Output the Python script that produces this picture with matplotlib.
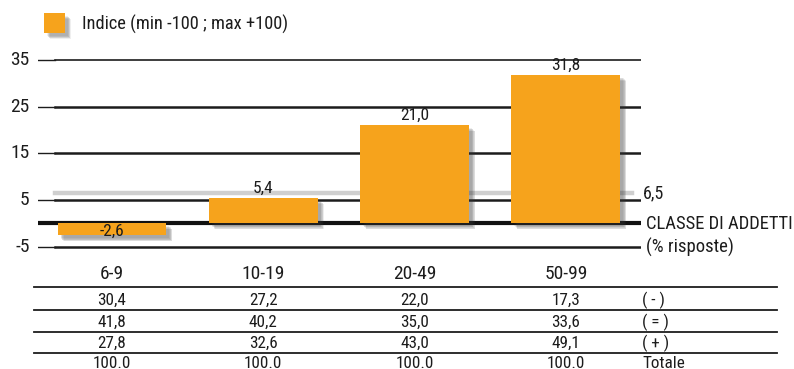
import matplotlib
matplotlib.use("Agg")
import matplotlib.pyplot as plt
import matplotlib.transforms as mtransforms
from matplotlib.patches import Rectangle
from matplotlib import font_manager as fm

# pick a narrow sans-serif face if one is installed
_names = sorted({f.name for f in fm.fontManager.ttflist})
_pref = ["Liberation Sans Narrow", "Roboto Condensed", "Open Sans Condensed",
         "Noto Sans Condensed", "DejaVu Sans Condensed", "Noto Sans SemiCondensed"]
FONT = next((n for n in _pref if n in _names), None)
STRETCH = "normal"
if FONT is None:
    _cands = [n for n in _names if "Narrow" in n or "Condensed" in n]
    if _cands:
        FONT = _cands[0]
if FONT is None:
    _cond = [f for f in fm.fontManager.ttflist
             if str(f.stretch) in ("condensed", "semi-condensed", "extra-condensed", "500", "300")]
    if _cond:
        FONT = _cond[0].name
        STRETCH = _cond[0].stretch
if FONT is None:
    FONT = "Liberation Sans"
plt.rcParams['font.family'] = [FONT, 'Liberation Sans', 'DejaVu Sans']
plt.rcParams['font.stretch'] = STRETCH

# ---- data ----
categories = ["6-9", "10-19", "20-49", "50-99"]
indice = [-2.6, 5.4, 21.0, 31.8]
indice_labels = ["-2,6", "5,4", "21,0", "31,8"]
media = 6.5
media_label = "6,5"
yticks = [35, 25, 15, 5, -5]

row_names = ["( - )", "( = )", "( + )", "Totale"]
risp_meno = ["30,4", "27,2", "22,0", "17,3"]
risp_uguale = ["41,8", "40,2", "35,0", "33,6"]
risp_piu = ["27,8", "32,6", "43,0", "49,1"]
totale = ["100.0", "100.0", "100.0", "100.0"]
table_rows = [risp_meno, risp_uguale, risp_piu, totale]

legend_text = "Indice (min -100 ; max +100)"
axis_title = "CLASSE DI ADDETTI"
axis_sub = "(% risposte)"

BAR = "#F6A31C"
INK = "#1c1c1c"
W, H = 794, 369
fig = plt.figure(figsize=(W / 100, H / 100), dpi=100)


def fx(px):
    return px / W


def fy(py):
    return 1 - py / H


# main plotting axes (pixel layout: x 38..641, y 45..260)
ax = fig.add_axes([fx(38), fy(260), fx(641) - fx(38), fy(45) - fy(260)])
ax.set_xlim(-0.489, 3.496)
ax.set_ylim(-7.86, 38.18)
ax.axis("off")

# horizontal grid lines
for v in yticks:
    ax.axhline(v, xmin=0.028, xmax=1, color=INK, lw=1.8 if v != 35 else 1.2, zorder=1)
    ax.axhline(v, xmin=0, xmax=0.028, color=INK, lw=1.0, zorder=1)
    ax.text(-0.545, v, str(v), ha="right", va="center", fontsize=14,
            color=INK, clip_on=False)
ax.axhline(0, color="#111111", lw=3.0, zorder=1)

# average line
ax.axhline(media, xmin=0.028, xmax=0.985, color="#cfcfcf", lw=3.2, zorder=0.9)
ax.text(3.51, media, media_label, ha="left", va="center", fontsize=13,
        color=INK, clip_on=False)
ax.text(3.53, -0.2, axis_title, ha="left", va="center", fontsize=13.4,
        color=INK, clip_on=False)
ax.text(3.53, -5.2, axis_sub, ha="left", va="center", fontsize=13.4,
        color=INK, clip_on=False)

# bars with soft drop shadow
bw = 0.72
xs = list(range(len(categories)))
for x, v in zip(xs, indice):
    y0, hgt = (0, v) if v >= 0 else (v, -v)
    for k in range(6):
        off = mtransforms.offset_copy(ax.transData, fig=fig, x=3 + k * 0.6,
                                      y=-(3 + k * 0.6), units="dots")
        ax.add_patch(Rectangle((x - bw / 2, y0), bw, hgt, transform=off,
                               facecolor="#3a3a3a", edgecolor="none",
                               alpha=0.09, zorder=1.5))
bars = ax.bar(xs, indice, width=bw, color=BAR, zorder=2)

for x, v, lab in zip(xs, indice, indice_labels):
    if v < 0:
        ax.text(x, v / 2 - 0.5, lab, ha="center", va="center", fontsize=12.5,
                color=INK, zorder=3)
    else:
        ax.text(x, v + 0.5, lab, ha="center", va="bottom", fontsize=12.5,
                color=INK, zorder=3)

# legend swatch
for k in range(6):
    fig.patches.append(Rectangle((fx(44 + 3 + k * 0.6), fy(33 + 3 + k * 0.6)),
                                 fx(21), 20 / H, transform=fig.transFigure,
                                 facecolor="#3a3a3a", edgecolor="none", alpha=0.08))
fig.patches.append(Rectangle((fx(44), fy(33)), fx(21), 20 / H,
                             transform=fig.transFigure, facecolor=BAR, edgecolor="none"))
fig.text(fx(82), fy(24), legend_text, ha="left", va="center", fontsize=13.2,
         color=INK)

# table under the chart
tx = mtransforms.blended_transform_factory(ax.transData, fig.transFigure)
for x, c in zip(xs, categories):
    ax.text(x, fy(274), c, transform=tx, ha="center", va="center", fontsize=14,
            color=INK, clip_on=False)

row_y = [300, 322, 343, 363]
line_y = [287, 310, 332, 353]
for ly in line_y:
    fig.add_artist(plt.Line2D([fx(34), fx(777)], [fy(ly), fy(ly)],
                              transform=fig.transFigure, color=INK, lw=1.3))
for ry, vals, name in zip(row_y, table_rows, row_names):
    for x, t in zip(xs, vals):
        ax.text(x, fy(ry), t, transform=tx, ha="center", va="center",
                fontsize=12.3, color=INK, clip_on=False)
    fig.text(fx(642), fy(ry), name, ha="left", va="center", fontsize=12.3,
             color=INK)

fig.savefig("out.png", dpi=100)
